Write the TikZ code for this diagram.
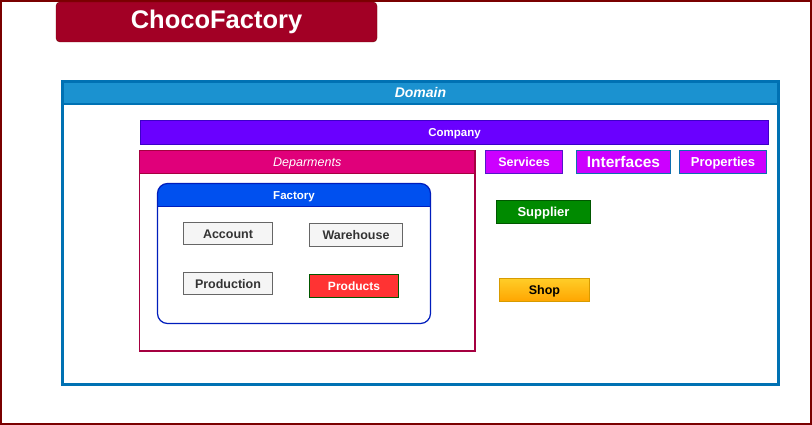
\documentclass[tikz,border=0pt]{standalone}
\usepackage{fontspec}
\setmainfont{Liberation Sans}
\usepackage{xcolor}
\definecolor{frameRed}{HTML}{7A0000}
\definecolor{titleFill}{HTML}{A20025}
\definecolor{titleEdge}{HTML}{6F0000}
\definecolor{domainFill}{HTML}{1B92D0}
\definecolor{domainEdge}{HTML}{0071B3}
\definecolor{companyFill}{HTML}{6A00FF}
\definecolor{companyEdge}{HTML}{3D00C8}
\definecolor{deptFill}{HTML}{E0007A}
\definecolor{deptEdge}{HTML}{A50040}
\definecolor{factFill}{HTML}{0050EF}
\definecolor{factEdge}{HTML}{001DBC}
\definecolor{itemFill}{HTML}{F5F5F5}
\definecolor{itemEdge}{HTML}{666666}
\definecolor{itemText}{HTML}{333333}
\definecolor{prodFill}{HTML}{FF3333}
\definecolor{greenEdge}{HTML}{005700}
\definecolor{violetFill}{HTML}{CC00FF}
\definecolor{servEdge}{HTML}{5317C9}
\definecolor{blueEdge}{HTML}{0E6EB0}
\definecolor{supFill}{HTML}{008A00}
\definecolor{shopTop}{HTML}{FFCD28}
\definecolor{shopBot}{HTML}{FFA500}
\definecolor{shopEdge}{HTML}{D79B00}
\newcommand{\fsz}[1]{\fontsize{#1}{#1}\selectfont}
\tikzset{
  header/.style n args={4}{path picture={
      \fill[#1, sharp corners] (path picture bounding box.north west) rectangle
        ([yshift=-#2]path picture bounding box.north east);
      \draw[#3, line width=#4, sharp corners] ([yshift=-#2]path picture bounding box.north west) --
        ([yshift=-#2]path picture bounding box.north east);}}
}

\begin{document}
\begin{tikzpicture}[x=1pt,y=-1pt,
    every node/.style={inner sep=0pt, outer sep=0pt, anchor=north west, align=center},
    capsonly/.style={text height=#1, text depth=0pt},
    lanebox/.style={draw, fill=white},
    itembox/.style={capsonly=9pt, draw=itemEdge, fill=itemFill, text=itemText, line width=1pt,
      font=\bfseries\fsz{12.5}, minimum height=22pt},
    tagbox/.style={capsonly=9pt, fill=violetFill, text=white, line width=1.2pt, font=\bfseries\fsz{12.5},
      minimum height=23pt},
    hdrtext/.style={anchor=center, text=white}]
  \useasboundingbox (0,0) rectangle (812,425);
  \draw[frameRed, line width=2.5pt] (1.2,1.2) rectangle (810.8,423.8);

  % title
  \node[fill=titleFill, draw=titleEdge, rounded corners=4pt, text=white,
    font=\bfseries\fsz{25.5}, minimum width=321pt, minimum height=40pt]
    (title) at (56,2) {ChocoFactory};

  % domain
  \node[lanebox, draw=domainEdge, line width=3pt, minimum width=716pt, minimum height=303pt,
    header={domainFill}{22.5pt}{domainEdge}{2.5pt}] (domain) at (62.5,81.5) {};
  \node[hdrtext, capsonly=10pt, font=\bfseries\itshape\fsz{14}] (domainlbl) at ([yshift=-11.5pt]domain.north) {Domain};

  \node[capsonly=8.2pt, fill=companyFill, draw=companyEdge, line width=1.5pt, text=white, font=\bfseries\fsz{11.5},
    minimum width=628pt, minimum height=24pt] (company) at (140.5,120.5) {Company};

  % departments
  \node[lanebox, draw=deptEdge, line width=1.2pt, minimum width=335.5pt, minimum height=200.5pt,
    header={deptFill}{22.5pt}{deptEdge}{0.8pt}] (dept) at (139.5,150.5) {};
  \node[hdrtext, capsonly=9pt, font=\itshape\fsz{12.5}] (deptlbl) at ([yshift=-11.5pt]dept.north) {Deparments};

  \node[lanebox, draw=factEdge, line width=1.2pt, rounded corners=10pt, minimum width=273pt,
    minimum height=140pt, header={factFill}{23pt}{factEdge}{1.2pt}] (factory) at (157.5,183.5) {};
  \node[hdrtext, capsonly=8.2pt, font=\bfseries\fsz{11.5}] (factorylbl) at ([yshift=-12pt]factory.north) {Factory};

  \node[itembox, minimum width=89pt] (account) at (183.5,222.5) {Account};
  \node[itembox, minimum width=93pt, minimum height=23pt] (warehouse) at (309.5,223.5) {Warehouse};
  \node[itembox, minimum width=89pt] (production) at (183.5,272.5) {Production};
  \node[itembox, draw=greenEdge, fill=prodFill, text=white, minimum width=89pt, minimum height=23pt,
    capsonly=8.6pt, font=\bfseries\fsz{12}] (products) at (309.5,274.5) {Products};

  % right side
  \node[tagbox, draw=servEdge, minimum width=77pt] (services) at (485.5,150.5) {Services};
  \node[tagbox, draw=blueEdge, minimum width=94pt, capsonly=11pt, font=\bfseries\fsz{15.5}] (interfaces) at (576.5,150.5) {Interfaces};
  \node[tagbox, draw=blueEdge, minimum width=87pt, capsonly=9.3pt, font=\bfseries\fsz{13}] (properties) at (679.5,150.5) {Properties};

  \node[tagbox, fill=supFill, draw=greenEdge, minimum width=94pt, capsonly=9.3pt, font=\bfseries\fsz{13}] (supplier) at (496.5,200.5) {Supplier};
  \node[tagbox, top color=shopTop, bottom color=shopBot, draw=shopEdge, text=black,
    minimum width=90pt] (shop) at (499.5,278.5) {Shop};
\end{tikzpicture}
\end{document}
